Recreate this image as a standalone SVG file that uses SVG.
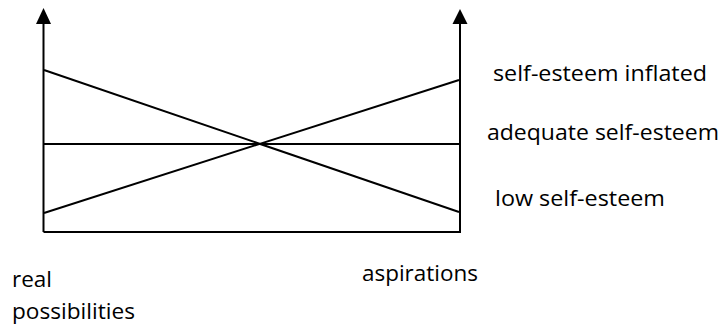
<svg xmlns="http://www.w3.org/2000/svg" width="722" height="327" viewBox="0 0 722 327">
<style>
.ln{stroke:#000;stroke-width:2;fill:none}
.t{font-family:"Open Sans","Liberation Sans",sans-serif;font-size:22px;fill:#000}
</style>
<g id="connectors">
<path class="ln" d="M43.5,232 V24"/>
<polygon points="43.5,8 36,24 51,24" fill="#000"/>
<path class="ln" d="M460,232 V24"/>
<polygon points="460,9 452.5,24 467.5,24" fill="#000"/>
<path class="ln" d="M43.5,232 H461"/>
<path class="ln" d="M44,70 L459,212"/>
<path class="ln" d="M44,144 H459"/>
<path class="ln" d="M44,213 L459,80"/>
</g>
<g id="inflated"><text class="t" x="493" y="81" textLength="214" lengthAdjust="spacingAndGlyphs">self-esteem inflated</text></g>
<g id="adequate"><text class="t" x="487" y="140" textLength="232" lengthAdjust="spacingAndGlyphs">adequate self-esteem</text></g>
<g id="low"><text class="t" x="495" y="206" textLength="170" lengthAdjust="spacingAndGlyphs">low self-esteem</text></g>
<g id="real"><text class="t" x="12" y="286.5" textLength="40" lengthAdjust="spacingAndGlyphs">real</text><text class="t" x="12" y="318.5" textLength="123" lengthAdjust="spacingAndGlyphs">possibilities</text></g>
<g id="aspirations"><text class="t" x="362" y="280.5" textLength="116" lengthAdjust="spacingAndGlyphs">aspirations</text></g>
</svg>
